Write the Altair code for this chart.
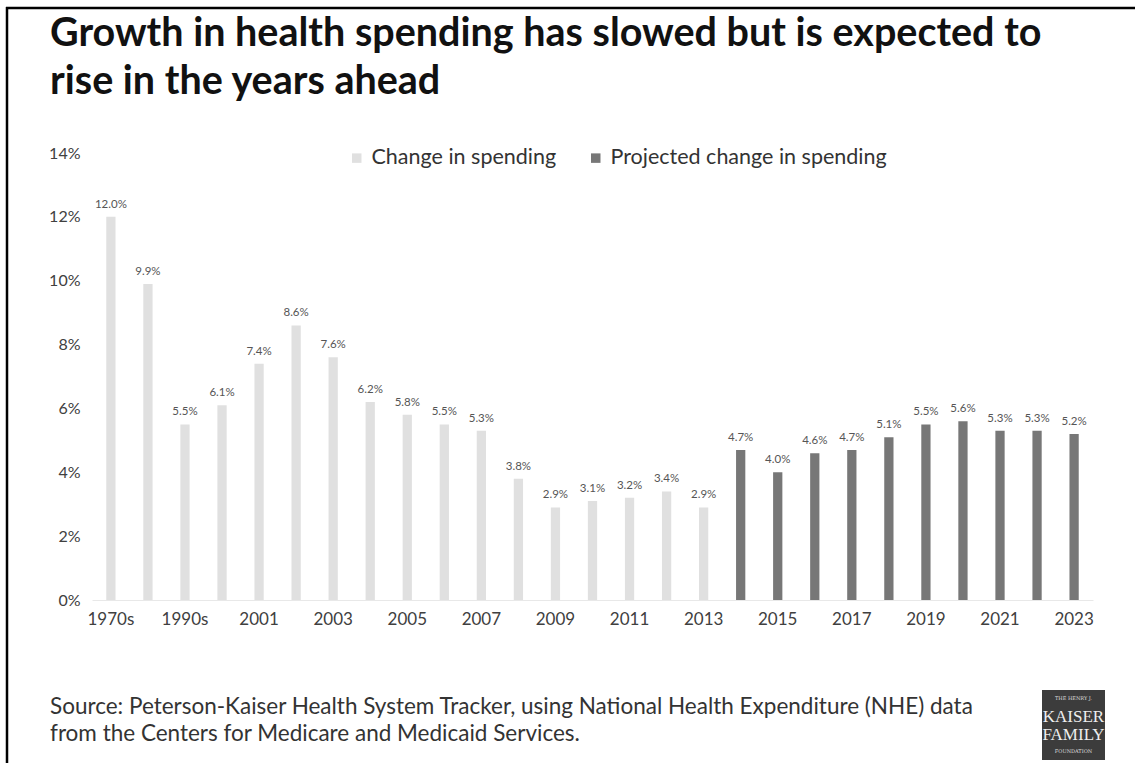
import altair as alt
import pandas as pd

categories = ["1970s", "1980s", "1990s", "2000", "2001", "2002", "2003", "2004", "2005",
              "2006", "2007", "2008", "2009", "2010", "2011", "2012", "2013", "2014",
              "2015", "2016", "2017", "2018", "2019", "2020", "2021", "2022", "2023"]
values = [12.0, 9.9, 5.5, 6.1, 7.4, 8.6, 7.6, 6.2, 5.8, 5.5, 5.3, 3.8, 2.9, 3.1, 3.2, 3.4, 2.9,
          4.7, 4.0, 4.6, 4.7, 5.1, 5.5, 5.6, 5.3, 5.3, 5.2]
series = ["Change in spending"] * 17 + ["Projected change in spending"] * 10
series_names = ["Change in spending", "Projected change in spending"]
series_colors = ["#e0e0e0", "#777777"]
x_tick_labels = ["1970s", "1990s", "2001", "2003", "2005", "2007", "2009", "2011", "2013",
                 "2015", "2017", "2019", "2021", "2023"]
y_ticks = [0, 2, 4, 6, 8, 10, 12, 14]

title_lines = ["Growth in health spending has slowed but is expected to",
               "rise in the years ahead"]
source_lines = ["Source: Peterson-Kaiser Health System Tracker, using National Health Expenditure (NHE) data",
                "from the Centers for Medicare and Medicaid Services."]

FONT = "Lato"
W, H = 1001, 447
PAD_L, PAD_T = 92, 153

df = pd.DataFrame({"year": categories, "value": values, "series": series})

x = alt.X("year:N", sort=categories, title=None,
          scale=alt.Scale(paddingInner=0.75, paddingOuter=0.385),
          axis=alt.Axis(values=x_tick_labels, labelAngle=0, labelFont=FONT, labelFontSize=17,
                        labelColor="#404040", ticks=False, domain=True, domainColor="#e8e8e8",
                        labelPadding=11))
y = alt.Y("value:Q", title=None, scale=alt.Scale(domain=[0, 14], nice=False),
          axis=alt.Axis(values=y_ticks, labelExpr="datum.value + '%'", labelFont=FONT,
                        labelFontSize=16, labelColor="#404040", ticks=False, domain=False,
                        grid=False, labelPadding=12))

bars = alt.Chart(df).mark_bar().encode(
    x=x, y=y,
    color=alt.Color("series:N", scale=alt.Scale(domain=series_names, range=series_colors),
                    legend=alt.Legend(title=None, orient="none", legendX=254, legendY=-6,
                                      direction="horizontal", symbolType="square",
                                      symbolSize=90, symbolStrokeWidth=0, labelLimit=0,
                                      labelFont=FONT, labelFontSize=21.5, labelColor="#333333",
                                      columnPadding=28, labelOffset=4)),
)

labels = alt.Chart(df).transform_calculate(
    lab="format(datum.value, '.1f') + '%'"
).mark_text(font=FONT, fontSize=11.5, color="#555555", baseline="bottom", dy=-7).encode(
    x=alt.X("year:N", sort=categories), y="value:Q", text="lab:N"
)

one = pd.DataFrame({"k": [0]})

title = alt.Chart(one).mark_text(
    text=title_lines, font=FONT, fontSize=39.5, fontWeight="bold", color="#111111",
    align="left", baseline="alphabetic", lineHeight=48
).encode(x=alt.value(-42), y=alt.value(46 - PAD_T))

source = alt.Chart(one).mark_text(
    text=source_lines, font=FONT, fontSize=22.5, color="#333333",
    align="left", baseline="alphabetic", lineHeight=27
).encode(x=alt.value(-42), y=alt.value(714 - PAD_T))

logo_box = alt.Chart(one).mark_rect(color="#3c3c3c").encode(
    x=alt.value(1042 - PAD_L), x2=alt.value(1105 - PAD_L),
    y=alt.value(690 - PAD_T), y2=alt.value(760 - PAD_T))
logo_small1 = alt.Chart(one).mark_text(
    text="THE HENRY J.", font="DejaVu Serif", fontSize=5, color="#dddddd"
).encode(x=alt.value(1073.5 - PAD_L), y=alt.value(698 - PAD_T))
logo_big = alt.Chart(one).mark_text(
    text=["KAISER", "FAMILY"], font="Liberation Serif", fontSize=17, color="#eeeeee",
    baseline="alphabetic", lineHeight=18
).encode(x=alt.value(1073.5 - PAD_L), y=alt.value(722 - PAD_T))
logo_small2 = alt.Chart(one).mark_text(
    text="FOUNDATION", font="DejaVu Serif", fontSize=5, color="#dddddd"
).encode(x=alt.value(1073.5 - PAD_L), y=alt.value(751 - PAD_T))

frame_top = alt.Chart(one).mark_rule(color="#000000", strokeWidth=2.5).encode(
    x=alt.value(6 - PAD_L), x2=alt.value(1135 - PAD_L), y=alt.value(8 - PAD_T))
frame_left = alt.Chart(one).mark_rule(color="#000000", strokeWidth=2.5).encode(
    x=alt.value(7 - PAD_L), y=alt.value(7 - PAD_T), y2=alt.value(763 - PAD_T))

chart = alt.layer(
    bars, labels, title, source, logo_box, logo_small1, logo_big, logo_small2,
    frame_top, frame_left
).properties(
    width=W, height=H,
    autosize=alt.AutoSizeParams(type="none"),
    padding={"left": PAD_L, "top": PAD_T, "right": 1135 - PAD_L - W, "bottom": 763 - PAD_T - H},
    background="#ffffff",
).configure_view(stroke=None)

chart.save("out.html", embed_options={"renderer": "svg", "actions": False})
